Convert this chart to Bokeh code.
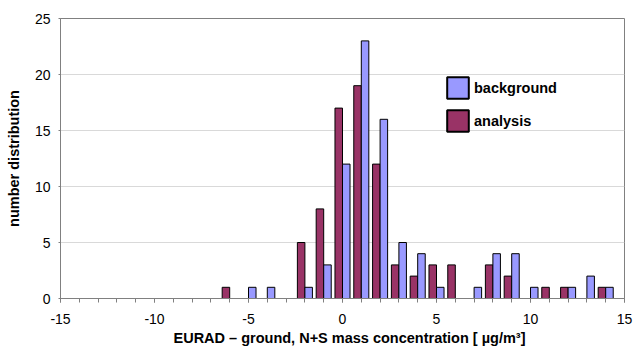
import numpy as np
from bokeh.plotting import figure
from bokeh.models import ColumnDataSource, FixedTicker, Legend, LegendItem, Title
from bokeh.embed import file_html
from bokeh.resources import INLINE

# ---- data ----
bins = [-6, -5, -4, -3, -2, -1, 0, 1, 2, 3, 4, 5, 6, 7, 8, 9, 10, 11, 12, 13, 14]
analysis = [1, 0, 0, 0, 5, 8, 17, 19, 12, 3, 2, 3, 3, 0, 3, 2, 0, 1, 1, 0, 1]
background = [0, 1, 1, 0, 1, 3, 12, 23, 16, 5, 4, 1, 0, 1, 4, 4, 1, 0, 1, 2, 1]
x_ticks = [-15, -10, -5, 0, 5, 10, 15]
y_ticks = [0, 5, 10, 15, 20, 25]
x_label = "EURAD \u2013 ground, N+S mass concentration [ \u00b5g/m\u00b3]"
y_label = "number distribution"

BG_COLOR = "#9999FF"
AN_COLOR = "#993366"
FONT = "Liberation Sans"

b = np.array(bins, dtype=float)
a = np.array(analysis)
g = np.array(background)

src_a = ColumnDataSource(dict(x=(b - 0.2)[a > 0], top=a[a > 0]))
src_g = ColumnDataSource(dict(x=(b + 0.2)[g > 0], top=g[g > 0]))

p = figure(width=633, height=347, x_range=(-15, 15), y_range=(0, 25),
           output_backend="svg", toolbar_location=None, tools="")
p.min_border_left = 60
p.min_border_right = 9
p.min_border_top = 18
p.min_border_bottom = 49
p.outline_line_color = "#808080"
p.outline_line_width = 1

p.vbar(x="x", top="top", width=0.4, source=src_a, fill_color=AN_COLOR,
       line_color="#000000", line_width=1)
p.vbar(x="x", top="top", width=0.4, source=src_g, fill_color=BG_COLOR,
       line_color="#000000", line_width=1)

# legend swatches: hidden renderers (same data) with thicker outline
lg_g = p.vbar(x="x", top="top", width=0.4, source=src_g, fill_color=BG_COLOR,
              line_color="#000000", line_width=2, visible=False)
lg_a = p.vbar(x="x", top="top", width=0.4, source=src_a, fill_color=AN_COLOR,
              line_color="#000000", line_width=2, visible=False)

legend = Legend(items=[LegendItem(label="background", renderers=[lg_g]),
                       LegendItem(label="analysis", renderers=[lg_a])],
                location=(384, 164))
legend.glyph_width = 27
legend.glyph_height = 27
legend.spacing = 6
legend.padding = 5
legend.margin = 0
legend.label_standoff = 3
legend.border_line_color = None
legend.background_fill_alpha = 0
legend.inactive_fill_alpha = 0
legend.label_text_font = FONT
legend.label_text_font_style = "bold"
legend.label_text_font_size = "14.5px"
legend.label_text_color = "#000000"
p.add_layout(legend)

# axes
p.xaxis.ticker = FixedTicker(ticks=x_ticks, minor_ticks=list(range(-15, 16)))
p.yaxis.ticker = FixedTicker(ticks=y_ticks)
p.xaxis.major_label_overrides = {t: str(t) for t in x_ticks}
for ax in (p.xaxis, p.yaxis):
    ax.axis_line_color = "#808080"
    ax.major_tick_line_color = "#808080"
    ax.minor_tick_line_color = "#808080"
    ax.major_tick_in = 0
    ax.minor_tick_in = 0
    ax.major_label_text_font = FONT
    ax.major_label_text_font_size = "14px"
    ax.major_label_text_color = "#000000"
    ax.axis_label_text_font = FONT
    ax.axis_label_text_font_style = "bold"
    ax.axis_label_text_font_size = "14.5px"
    ax.axis_label_text_color = "#000000"
p.xaxis.major_tick_out = 4
p.xaxis.minor_tick_out = 4
p.yaxis.major_tick_out = 2
p.yaxis.minor_tick_out = 0
p.xaxis.major_label_standoff = 11
p.yaxis.major_label_standoff = 8
p.yaxis.axis_label = y_label
p.yaxis.axis_label_standoff = 10

xt = Title(text=x_label, align="left", offset=113, standoff=3,
           text_font=FONT, text_font_style="bold", text_font_size="14.5px",
           text_color="#000000")
p.add_layout(xt, "below")

p.xgrid.grid_line_color = None
p.ygrid.grid_line_color = "#d9d9d9"

open("out.html", "w").write(file_html(p, INLINE))
